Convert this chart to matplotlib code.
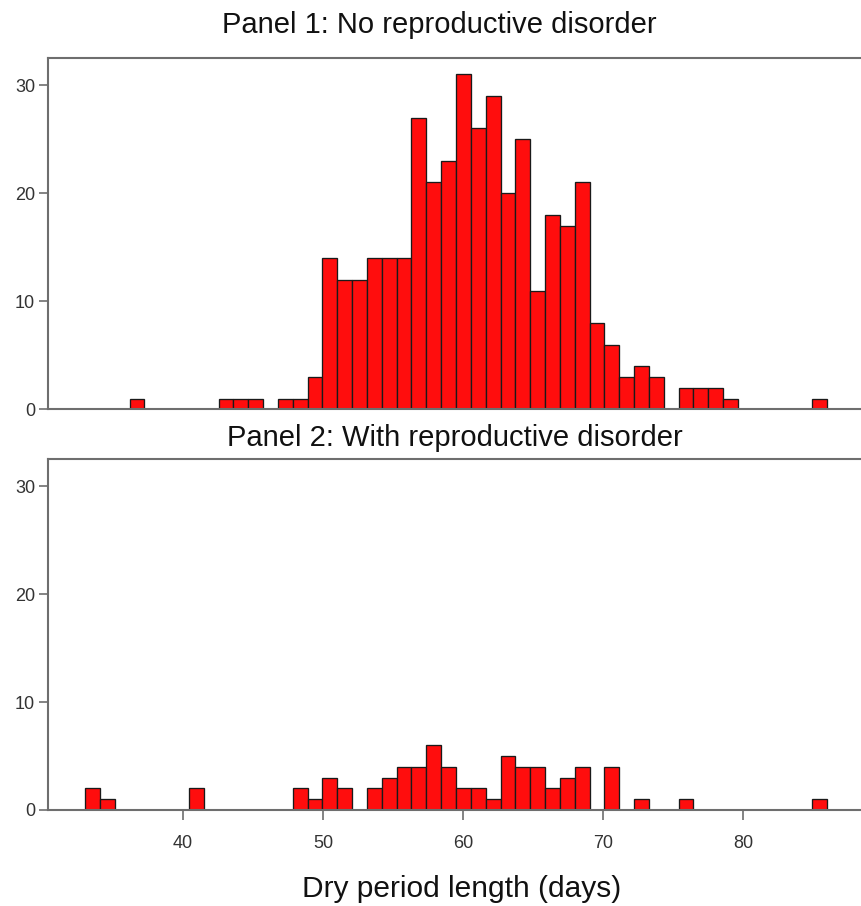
import numpy as np
import matplotlib
matplotlib.use("Agg")
import matplotlib.pyplot as plt

# ---- data ----
bin_start = 33.0
bin_end = 86.0
n_bins = 50

counts_no_disorder = [0, 0, 0, 1, 0, 0, 0, 0, 0, 1,
                      1, 1, 0, 1, 1, 3, 14, 12, 12, 14,
                      14, 14, 27, 21, 23, 31, 26, 29, 20, 25,
                      11, 18, 17, 21, 8, 6, 3, 4, 3, 0,
                      2, 2, 2, 1, 0, 0, 0, 0, 0, 1]

counts_with_disorder = [2, 1, 0, 0, 0, 0, 0, 2, 0, 0,
                        0, 0, 0, 0, 2, 1, 3, 2, 0, 2,
                        3, 4, 4, 6, 4, 2, 2, 1, 5, 4,
                        4, 2, 3, 4, 0, 4, 0, 1, 0, 0,
                        1, 0, 0, 0, 0, 0, 0, 0, 0, 1]

panel_titles = ["Panel 1: No reproductive disorder",
                "Panel 2: With reproductive disorder"]
x_label = "Dry period length (days)"
x_ticks = [40, 50, 60, 70, 80]
y_ticks = [0, 10, 20, 30]

# ---- figure ----
plt.rcParams['font.family'] = ['Liberation Sans', 'DejaVu Sans']
W, H = 862, 906
fig = plt.figure(figsize=(W / 100, H / 100), dpi=100)

edges = np.linspace(bin_start, bin_end, n_bins + 1)
centers = (edges[:-1] + edges[1:]) / 2

spine_col = '#6e6e6e'
label_col = '#333333'

left_px, right_px = 48.3, 862
ax_rects = [
    (left_px / W, (H - 409.3) / H, (right_px - left_px) / W, (409.3 - 58.3) / H),
    (left_px / W, (H - 810.0) / H, (right_px - left_px) / W, (810.0 - 459.3) / H),
]
x0 = 40 - (183 - left_px) / 14.0
x1 = 40 + (right_px - 183) / 14.0

axes = []
for i, (rect, counts) in enumerate(zip(ax_rects, [counts_no_disorder, counts_with_disorder])):
    ax = fig.add_axes(rect)
    ax.hist(centers, bins=edges, weights=counts, color='#ff0d0d',
            edgecolor='#1a1a1a', linewidth=0.95)
    ax.set_xlim(x0, x1)
    ax.set_ylim(0, 32.5)
    ax.set_yticks(y_ticks)
    for s in ['left', 'bottom', 'top']:
        ax.spines[s].set_color(spine_col)
        ax.spines[s].set_linewidth(1.5)
    ax.spines['right'].set_visible(False)
    ax.tick_params(axis='y', direction='out', length=6.5, width=1.2,
                   color=spine_col, labelcolor=label_col, labelsize=13, pad=3)
    if i == 0:
        ax.tick_params(axis='x', bottom=False, labelbottom=False)
    else:
        ax.set_xticks(x_ticks)
        ax.tick_params(axis='x', direction='out', length=7, width=1.2,
                       color=spine_col, labelcolor=label_col, labelsize=13, pad=11)
    axes.append(ax)

fig.text(439.5 / W, 1 - 25 / H, panel_titles[0], ha='center', va='center',
         fontsize=21, color='#111111')
fig.text(455 / W, 1 - 438 / H, panel_titles[1], ha='center', va='center',
         fontsize=21, color='#111111')
fig.text(462 / W, 1 - 889 / H, x_label, ha='center', va='center',
         fontsize=21.5, color='#111111')

fig.savefig('out.png', dpi=100)
